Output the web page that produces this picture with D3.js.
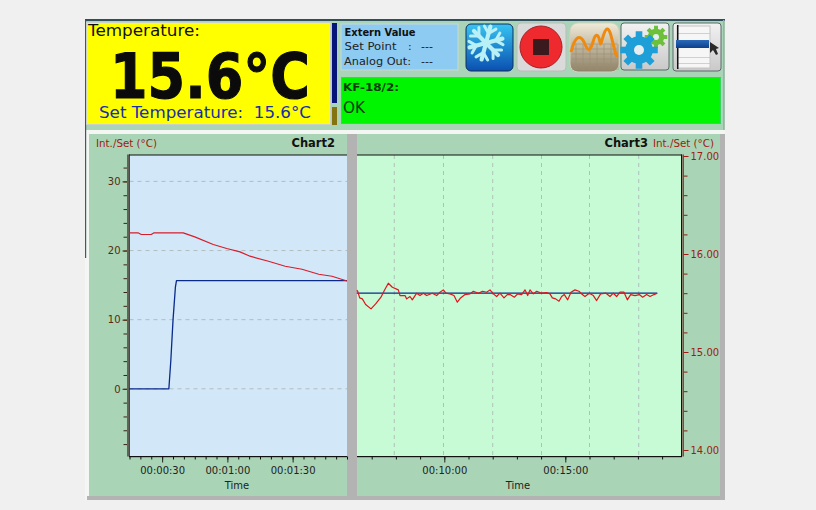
<!DOCTYPE html>
<html><head><meta charset="utf-8">
<script src="https://d3js.org/d3.v7.min.js"></script>
<style>
html,body{margin:0;padding:0;background:#f0f0f0;overflow:hidden}
svg{display:block}
text{font-family:"DejaVu Sans",sans-serif}
</style></head><body>
<div id="c"></div>
<script>
// ---- chart data (seconds / degrees C) ----
const leftTempTime = [14.8,18.9,20.4,25,26.3,39.7,45,53.5,59.7,65.8,70.4,78.9,86.6,94.3,102,108.1,115];
const leftTempValue = [22.56,22.56,22.32,22.32,22.56,22.56,21.98,20.87,20.29,19.81,19.18,18.45,17.73,17.29,16.57,16.28,15.6];
const leftSetTime = [14.8,33.1,34,35,36.1,36.6,115];
const leftSetValue = [0,0,4.1,9.9,14.7,15.65,15.65];
const rightTempTime = [383,385.2,390.2,396.8,405,418.3,429.8,443,451.3,461.2,471.2,486,490.2,502.6,506.7,515,520.7,531.5,539.7,548,556.3,570.3,
  581,589.3,597.6,604.2,614,624,632.3,640.5,651.3,663.7,672,684.3,695,705,713.3,721.5,729.8,738,748,756.2,
  763,773.6,781.9,791.8,800.1,806.7,812.5,820.7,829,841.4,853.8,862,867.9,876.1,884.4,891,897.6,905.9,914.1,924,933.9,942.2,948.8,
  959.5,969.5,977.7,987.6,1000.9,1010.8,1019,1027.3,1035.6,1045.5,1053.8,1062,1072.8,1083.5,1091.8,1101.7,1110,1119.9,1128];
const rightTempValue = [15.63,15.62,15.552,15.542,15.484,15.44,15.491,15.559,15.627,15.702,15.661,15.634,15.576,15.576,15.542,15.566,15.532,15.6,15.576,15.6,15.576,15.6,
  15.576,15.61,15.634,15.6,15.593,15.576,15.508,15.552,15.586,15.593,15.62,15.6,15.62,15.61,15.634,15.593,15.566,15.6,15.552,15.586,
  15.586,15.559,15.593,15.586,15.634,15.576,15.634,15.593,15.62,15.6,15.607,15.593,15.552,15.542,15.518,15.566,15.586,15.532,15.61,15.634,15.62,15.586,15.566,
  15.6,15.576,15.525,15.593,15.6,15.566,15.6,15.566,15.61,15.61,15.532,15.586,15.576,15.586,15.559,15.586,15.566,15.586,15.6];
const rightSetTime = [383,1128];
const rightSetValue = [15.6,15.6];
const leftYTicks = [30,20,10,0];
const rightYTicks = [17,16,15,14];
const leftXTicks = [30,60,90];
const rightXTicks = [600,900];
const rightGridTimes = [476,598,720,841,960,1082];

const W=816,H=510;
const svg=d3.select("#c").append("svg").attr("width",W).attr("height",H);
const rect=(g,x,y,w,h,f,s)=>g.append("rect").attr("x",x).attr("y",y).attr("width",w).attr("height",h).attr("fill",f).attr("stroke",s||"none");
const label=(g,x,y,t,o={})=>g.append("text").attr("x",x).attr("y",y).text(t)
  .attr("fill",o.fill||"#111").attr("font-size",o.size||10).attr("font-weight",o.weight||"normal")
  .attr("text-anchor",o.anchor||"start").attr("font-family",o.family||null)
  .each(function(){if(o.len){d3.select(this).attr("textLength",o.len).attr("lengthAdjust","spacingAndGlyphs")}});

// ---- window frame ----
const fr=svg.append("g");
rect(fr,85,20,640,480,"#f4f6f4");
rect(fr,85,20,640,110,"#a9d4b7");
rect(fr,85,19,640,2,"#2f5058");
rect(fr,85,20,1.2,238,"#3d5a60");
rect(fr,723,20,1.5,110,"#9fb0a8");
rect(fr,89,134,631,362,"#a9d5b6");
rect(fr,720,134,5,366,"#b3b3b3");
rect(fr,87,496,638,4,"#b3b3b3");

// ---- header: temperature box ----
const hdr=svg.append("g");
rect(hdr,86.5,22.5,244,102,"#ffff00","#c8d2c8");
label(hdr,88,36,"Temperature:",{size:16,len:112,family:"'Liberation Sans'",fill:"#111"});
label(hdr,110,98,"15.6°C",{size:62,weight:"bold",len:200,fill:"#0b0b0b"}).attr("stroke","#0b0b0b").attr("stroke-width",1.2);
label(hdr,99,118,"Set Temperature:  15.6°C",{size:15.5,len:212,fill:"#1530a8",family:"'Liberation Sans'"}).style("white-space","pre");
rect(hdr,332,23,5,80,"#06147a");
rect(hdr,332,107,5,18,"#84740f");

// extern box
rect(hdr,341,24,117,46,"#8ecbf2","#c5d8d5");
label(hdr,344.5,36,"Extern Value",{size:10,weight:"bold",len:71});
label(hdr,344.5,50,"Set Point",{size:11,len:52,fill:"#222"});
label(hdr,408,50,":",{size:11,fill:"#222"});
label(hdr,421,50,"---",{size:11,fill:"#222"});
label(hdr,344,65,"Analog Out:",{size:11,len:67,fill:"#222"});
label(hdr,421,65,"---",{size:11,fill:"#222"});

// status box
rect(hdr,341.5,77.5,379,46,"#00f500","#3fcf66");
label(hdr,343,91,"KF-18/2:",{size:10,weight:"bold",len:56,fill:"#0a3a0a"});
label(hdr,343,113,"OK",{size:16,len:22,fill:"#0a3a0a"});

// icons
const defs=svg.append("defs");
const grad=(id,stops)=>{const g=defs.append("linearGradient").attr("id",id).attr("x1",0).attr("y1",0).attr("x2",0).attr("y2",1);
 stops.forEach(([o,c])=>g.append("stop").attr("offset",o).attr("stop-color",c));};
grad("ice",[[0,"#37c4f2"],[1,"#0a4fb0"]]);
grad("btn",[[0,"#f2f2f2"],[1,"#c9c9c9"]]);
grad("chartBtn",[[0,"#f0ead8"],[1,"#8d8267"]]);
grad("bar",[[0,"#2a6ab8"],[1,"#0c3f8c"]]);
const ic=svg.append("g");
rect(ic,466,24,47,47,"url(#ice)","#10305a").attr("rx",5);
const flake=ic.append("g").attr("transform","translate(486,43)").attr("stroke","#b8f0f6").attr("stroke-width",4.2).attr("stroke-linecap","round");
d3.range(6).forEach(i=>{const s=flake.append("g").attr("transform",`rotate(${i*60+15})`);
 s.append("line").attr("x1",0).attr("y1",0).attr("x2",0).attr("y2",-17);
 s.append("line").attr("x1",0).attr("y1",-10).attr("x2",-6).attr("y2",-16).attr("stroke-width",3);
 s.append("line").attr("x1",0).attr("y1",-10).attr("x2",6).attr("y2",-16).attr("stroke-width",3);});
rect(ic,517,23,49,48,"#dadada","#bcbcbc").attr("rx",4);
ic.append("circle").attr("cx",541).attr("cy",47).attr("r",21).attr("fill","#ee2a2e").attr("stroke","#a82025");
rect(ic,533,39,16,16,"#3a1a1c");
rect(ic,570,23,49,49,"url(#chartBtn)","#d4d0c0").attr("rx",8);
const gridIcon=ic.append("g").attr("stroke","#a08e6e").attr("stroke-width",.6);
d3.range(6).forEach(i=>{gridIcon.append("line").attr("x1",572).attr("x2",617).attr("y1",44+i*5).attr("y2",44+i*5);});
d3.range(7).forEach(i=>{gridIcon.append("line").attr("y1",44).attr("y2",70).attr("x1",576+i*7).attr("x2",576+i*7);});
ic.append("path").attr("d","M571,52C575,36 580,34 584,42C588,52 590,52 593,42C595,34 598,32 600,42C601,50 603,30 607,29C611,28 613,48 617,57")
  .attr("fill","none").attr("stroke","#ee8a10").attr("stroke-width",3);
rect(ic,621,23,48,47,"url(#btn)","#5b6a6a").attr("rx",3);
const gear=(cx,cy,r,f,hole)=>{const g=ic.append("g").attr("transform",`translate(${cx},${cy})`);
 d3.range(8).forEach(i=>g.append("rect").attr("x",-r*.22).attr("y",-r*1.25).attr("width",r*.44).attr("height",r*.5).attr("fill",f).attr("transform",`rotate(${i*45})`));
 g.append("circle").attr("r",r*.92).attr("fill",f);
 g.append("circle").attr("r",hole).attr("fill","#e8eef0");};
gear(656,37,9,"#6cc03a",3);
gear(639,50,15,"#1f9fd8",5);
rect(ic,673,23,48,48,"url(#btn)","#5b6a6a").attr("rx",3);
rect(ic,677,26,33,42,"#f6f6f6","#c4c4c4");
[33,41,57,63].forEach(y=>rect(ic,677,y,33,.6,"#b8b8b8"));
rect(ic,677,25,1.5,44,"#111");
rect(ic,676,40,33,8,"url(#bar)");
ic.append("path").attr("d","M710,42L710,53L713,50L716,55L718,54L716,49L719,48Z").attr("fill","#2a2a2a");

// ---- charts ----
const fmt=s=>{const m=Math.floor(s/60),r=s%60;return `00:${String(m).padStart(2,"0")}:${String(r).padStart(2,"0")}`;};
const plotTop=155,plotBot=456.5;

const xL=d3.scaleLinear().domain([15,115]).range([129.5,347]);
const yL=d3.scaleLinear().domain([0,30]).range([388.8,181.4]);
const xR=d3.scaleLinear().domain([600,900]).range([444.3,565.3]);
const yR=d3.scaleLinear().domain([14,17]).range([450,156]);

// plot backgrounds
const ch=svg.append("g");
rect(ch,129.5,plotTop,217.5,plotBot-plotTop,"#d2e8f8");
rect(ch,357,plotTop,324,plotBot-plotTop,"#c6fbd6");
rect(ch,347,134,10,362,"#b3b3b3");

// gridlines
const gridStyle=s=>s.attr("stroke","#a8b2b2").attr("stroke-width",.8).attr("stroke-dasharray","4,4");
ch.selectAll(".gl").data(leftYTicks).join("line").attr("class","gl").attr("x1",129.5).attr("x2",347).attr("y1",d=>yL(d)).attr("y2",d=>yL(d)).call(gridStyle);
ch.selectAll(".gr").data(rightGridTimes).join("line").attr("class","gr").attr("x1",d=>xR(d)).attr("x2",d=>xR(d)).attr("y1",plotTop).attr("y2",plotBot).call(gridStyle);

// frame lines
rect(ch,129,154.5,218,1,"#111");
rect(ch,357,154.5,325,1,"#111");

// axes
const styleAxis=(g,col)=>{g.select(".domain").remove();g.selectAll("line").attr("stroke",col);
 g.selectAll("text").attr("fill",col).attr("font-size",10).attr("font-family","'DejaVu Sans'");};
const axL=svg.append("g").attr("transform","translate(127.5,0)");
axL.append("g").call(d3.axisLeft(yL).tickValues(d3.range(-8,34,2)).tickSize(4).tickFormat("")).call(styleAxis,"#3a2018");
axL.append("g").call(d3.axisLeft(yL).tickValues(leftYTicks).tickSize(5).tickFormat(d3.format("d")).tickPadding(2)).call(styleAxis,"#5a2a10");
rect(svg,127,154.5,1.2,302,"#c83a2a");
rect(svg,128.5,154.5,1.2,302,"#111");

const axR=svg.append("g").attr("transform","translate(683.5,0)");
axR.append("g").call(d3.axisRight(yR).tickValues(d3.range(14,17.01,.2).map(v=>+v.toFixed(1))).tickSize(4).tickFormat("")).call(styleAxis,"#8a1a10");
axR.append("g").call(d3.axisRight(yR).tickValues(rightYTicks).tickSize(5).tickFormat(d3.format(".2f")).tickPadding(2)).call(styleAxis,"#a01a12");
rect(svg,682.7,154.5,1.2,302,"#c01e14");
rect(svg,681,154.5,1.2,302,"#111");

const axBL=svg.append("g").attr("transform",`translate(0,${plotBot})`);
axBL.append("g").call(d3.axisBottom(xL).tickValues(d3.range(15,116,5)).tickSize(3).tickFormat("")).call(styleAxis,"#111");
axBL.append("g").call(d3.axisBottom(xL).tickValues(leftXTicks).tickSize(6).tickPadding(4).tickFormat(fmt)).call(styleAxis,"#222");
rect(svg,129,456,218,1.2,"#111");

const axBR=svg.append("g").attr("transform",`translate(0,${plotBot})`);
axBR.append("g").call(d3.axisBottom(xR).tickValues(d3.range(420,1170,60)).tickSize(3).tickFormat("")).call(styleAxis,"#111");
axBR.append("g").call(d3.axisBottom(xR).tickValues(rightXTicks).tickSize(6).tickPadding(4).tickFormat(fmt)).call(styleAxis,"#222");
rect(svg,357,456,325,1.2,"#111");

// series
const lineOf=(x,y,xs,ys)=>d3.line().x((d,i)=>x(xs[i])).y((d,i)=>y(ys[i]))(xs);
const drawLine=(d,c,w)=>svg.append("path").attr("d",d).attr("fill","none").attr("stroke",c).attr("stroke-width",w).attr("stroke-linejoin","round");
drawLine(lineOf(xL,yL,leftSetTime,leftSetValue),"#0a2a8c",1.3);
drawLine(lineOf(xL,yL,leftTempTime,leftTempValue),"#d81c2c",1.2);
drawLine(lineOf(xR,yR,rightSetTime,rightSetValue),"#0a2a8c",1.3);
drawLine(lineOf(xR,yR,rightTempTime,rightTempValue),"#e0141c",1.2);

// titles
label(svg,96,147,"Int./Set (°C)",{size:10,fill:"#a01a12",len:61});
label(svg,335,146.5,"Chart2",{size:11.5,weight:"bold",anchor:"end",fill:"#111"});
label(svg,648,146.5,"Chart3",{size:11.5,weight:"bold",anchor:"end",fill:"#111"});
label(svg,653,147,"Int./Set (°C)",{size:10,fill:"#a01a12",len:61});
label(svg,237,489,"Time",{size:10,anchor:"middle",fill:"#222"});
label(svg,518,489,"Time",{size:10,anchor:"middle",fill:"#222"});
</script></body></html>
